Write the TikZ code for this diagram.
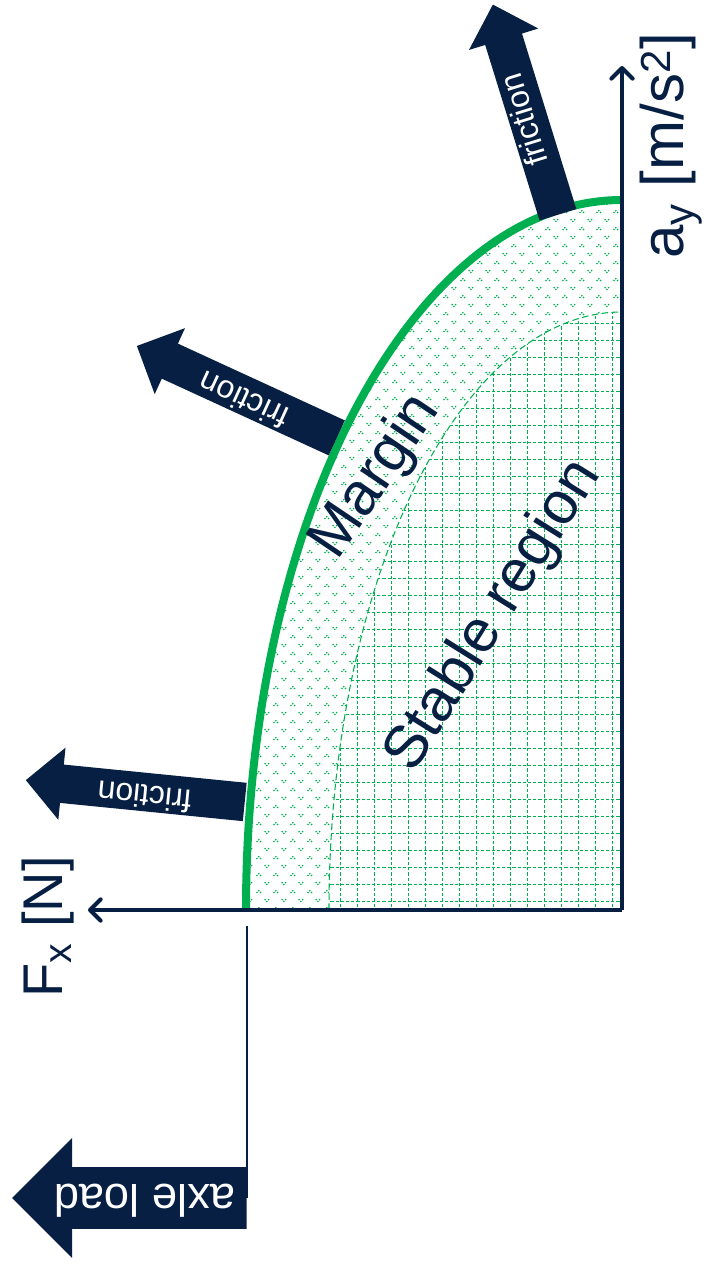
\documentclass[tikz,border=0pt]{standalone}
\usepackage{fontspec}
\setmainfont{Liberation Sans}
\usetikzlibrary{arrows.meta, shapes.arrows, patterns.meta}

\definecolor{navy}{HTML}{061F42}
\definecolor{fgreen}{HTML}{00B050}

% dot pattern of the margin band
\tikzdeclarepattern{
  name=margindots,
  type=colored,
  bounding box={(0pt,0pt) and (12.75pt,12.75pt)},
  tile size={(12.75pt,12.75pt)},
  code={
    \fill[fgreen] (3pt,4.2pt) circle[radius=0.75pt] (1.6pt,2.8pt) circle[radius=0.75pt] (4.4pt,2.8pt) circle[radius=0.75pt];
    \fill[fgreen] (8pt,10.6pt) circle[radius=0.75pt] (10.8pt,10.6pt) circle[radius=0.75pt] (9.4pt,9.2pt) circle[radius=0.75pt];
  }
}

\begin{document}
\begin{tikzpicture}[
    x=0.75pt, y=-0.75pt,
    force/.style={single arrow, fill=navy, text=white, anchor=tail, minimum height=165pt,
        single arrow head extend=12.75pt, inner xsep=2pt, inner ysep=1.25pt,
        text height=18pt, text depth=8pt, font=\fontsize{24}{24}\selectfont},
    axleforce/.style={force, minimum height=176pt, single arrow head extend=22pt,
        inner ysep=2pt, text height=31pt, text depth=10.75pt, font=\fontsize{34}{34}\selectfont},
    axisline/.style={navy, line width=2.8pt, -{Straight Barb[length=8pt, width=16pt, line width=3pt, round]}},
    rimline/.style={fgreen, line width=6pt},
    innerline/.style={fgreen, line width=0.8pt, dash pattern=on 5pt off 2.5pt},
    gridline/.style={fgreen, line width=0.7pt, dash pattern=on 2.4pt off 1.5pt, step=12.75pt},
    regiontext/.style={navy, font=\fontsize{45}{45}\selectfont},
    axislabel/.style={navy, rotate=90, font=\fontsize{42}{42}\selectfont}
]
    \useasboundingbox (0,0) rectangle (709,1270);
    \coordinate (O) at (622,910);
    \coordinate (fx) at (88,910);
    \coordinate (ay) at (622,66);

    % margin band
    \fill[pattern=margindots] (O) -- (246,910) arc[start angle=180, end angle=270, x radius=376, y radius=710] -- cycle;
    % stable region
    \fill[white] (O) -- (329,910) arc[start angle=180, end angle=270, x radius=293, y radius=598] -- cycle;
    \begin{scope}
        \clip (O) -- (329,910) arc[start angle=180, end angle=270, x radius=293, y radius=598] -- cycle;
        \draw[gridline] (320,912) grid (624,300);
    \end{scope}
    \draw[innerline] (329,910) arc[start angle=180, end angle=270, x radius=293, y radius=598];
    \draw[rimline] (246,910) arc[start angle=180, end angle=270, x radius=376, y radius=710];

    % axes
    \draw[axisline] (O) -- (fx);
    \draw[axisline] (O) -- (ay);
    \node[axislabel] (fxlabel) at (48,927) {F\textsubscript{x} [N]};
    \node[axislabel, font=\fontsize{45}{45}\selectfont] (aylabel) at (671,146) {a\textsubscript{y} [m/s\textsuperscript{2}]};

    \node[regiontext, rotate=56] (margin) at (376,477) {Margin};
    \node[regiontext, rotate=58] (stable) at (494,616) {Stable region};

    % friction forces
    \node[force, rotate=107.2] (f1) at (558,215) {friction};
    \node[force, rotate=155.3] (f2) at (337,438) {friction};
    \node[force, rotate=174.3] (f3) at (245,802) {friction};

    % axle load
    \coordinate (axletop) at (247,926);
    \node[axleforce, rotate=180] (axle) at (247,1198) {axle load};
    \draw[navy, line width=1pt] (axletop) -- (axle.tail);
\end{tikzpicture}
\end{document}
